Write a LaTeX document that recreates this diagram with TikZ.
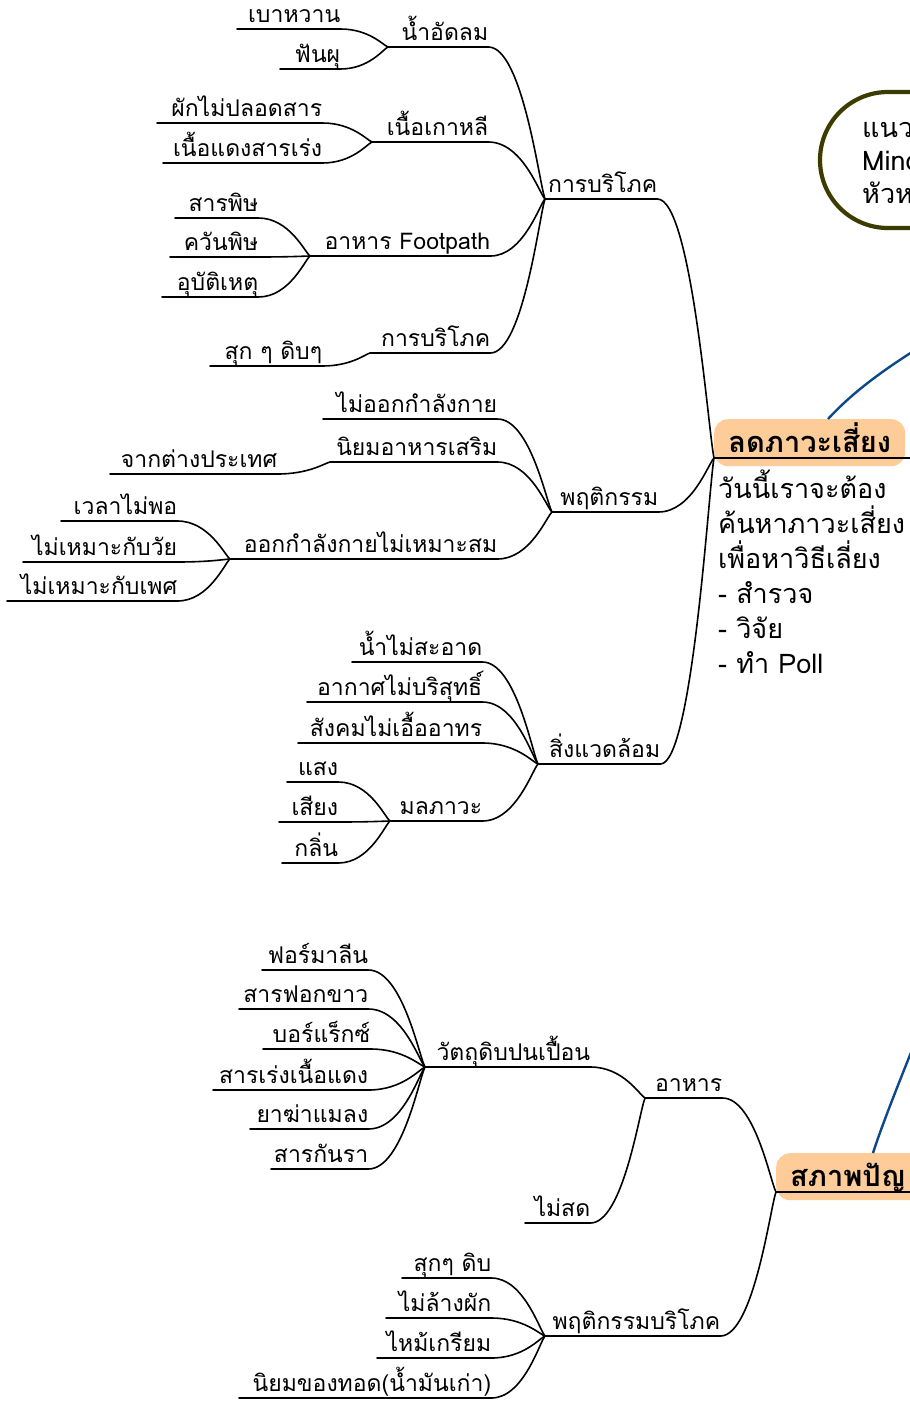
\documentclass[tikz,border=0pt]{standalone}
\usepackage{fontspec}
\setmainfont[Script=Thai]{Loma}
\usetikzlibrary{calc}
\definecolor{orbox}{RGB}{253,204,153}
\definecolor{bluel}{RGB}{12,72,140}
\definecolor{olv}{RGB}{60,60,0}
\tikzset{
 lab/.style={anchor=south west, inner sep=0pt, text height=17pt, text depth=6pt, align=right, font=\fontsize{23}{25}\selectfont},
 ln/.style={line width=1.6pt, line cap=round},
 br/.style={to path={let \p1=(\tikztostart), \p2=(\tikztotarget) in .. controls ({\x1+0.6*(\x2-\x1)},\y1) and ({\x2-0.1*(\x2-\x1)},{\y2+0.1*(\y1-\y2)}) .. (\tikztotarget)}},
 cbox/.style={fill=orbox, rounded corners=14pt, inner ysep=0pt, text height=20pt, text depth=1pt, minimum height=47pt, anchor=north west, font=\bfseries\fontsize{29}{31}\selectfont},
 bluelink/.style={bluel, line width=2.4pt},
 bigtext/.style={anchor=base west, align=left, inner sep=0pt},
}
\newcommand\lb[5]{\pgfmathsetmacro\tw{#3-#2}\node[lab, text width=\tw pt] (#1) at (#2,#4) {#5};\draw[ln] (#1.south west) -- (#1.south east);}
\newcommand\cn[2]{\draw[ln] (#1.south east) to[br] (#2.south west);}
\begin{document}
\begin{tikzpicture}[x=1pt,y=-1pt]
\useasboundingbox (0,0) rectangle (910,1406);
\clip (0,0) rectangle (910,1406);
\fill[white] (0,0) rectangle (910,1406);

% idea bubble
\draw[olv, line width=4.2pt] (930,92) -- (888,92) arc[start angle=90,end angle=270,radius=68pt] -- (930,228);
\node[bigtext, font=\fontsize{27}{33}\selectfont] (idea) at (862,203) {แนว\\Mind\\หัวห};

% centre 1
\node[cbox, minimum width=191pt, inner xsep=0pt] (c1) at (714,419) {ลดภาวะเสี่ยง};
\coordinate (j1) at (714,458);
\coordinate (e1) at (920,458);
\draw[ln] (j1) -- (e1);
\coordinate (b1) at (828,419);
\coordinate (b1e) at (945,332);
\draw[bluelink] (b1) .. controls (852,393) and (885,367) .. (b1e);
\node[bigtext, font=\fontsize{27}{35}\selectfont] (desc) at (718,673) {วันนี้เราจะต้อง\\ค้นหาภาวะเสี่ยง\\เพื่อหาวิธีเลี่ยง\\- สำรวจ\\- วิจัย\\- ทำ Poll};

% group 1
\lb{gb}{545}{657}{199}{การบริโภค}
\lb{nam}{388}{488}{47}{น้ำอัดลม}
\lb{bw}{237}{340}{29}{เบาหวาน}
\lb{fp}{280}{340}{69}{ฟันผุ}
\lb{nk}{372}{488}{142}{เนื้อเกาหลี}
\lb{pk}{157}{322}{123}{ผักไม่ปลอดสาร}
\lb{ns}{163}{322}{163}{เนื้อแดงสารเร่ง}
\lb{af}{310}{490}{256}{อาหาร Footpath}
\lb{sp}{175}{258}{218}{สารพิษ}
\lb{kp}{170}{258}{257}{ควันพิษ}
\lb{ub}{162}{258}{297}{อุบัติเหตุ}
\lb{gbb}{370}{490}{353}{การบริโภค}
\lb{sd}{210}{322}{366}{สุก ๆ ดิบๆ}
\draw[ln] (gb.south east) to[br] (j1);
\cn{nam}{gb}\cn{nk}{gb}\cn{af}{gb}\cn{gbb}{gb}
\cn{bw}{nam}\cn{fp}{nam}
\cn{pk}{nk}\cn{ns}{nk}
\cn{sp}{af}\cn{kp}{af}\cn{ub}{af}
\cn{sd}{gbb}

% group 2
\lb{pt}{552}{658}{512}{พฤติกรรม}
\lb{mo}{323}{497}{419}{ไม่ออกกำลังกาย}
\lb{ny}{330}{497}{462}{นิยมอาหารเสริม}
\lb{jk}{110}{277}{474}{จากต่างประเทศ}
\lb{ok}{230}{497}{559}{ออกกำลังกายไม่เหมาะสม}
\lb{wl}{61}{177}{521}{เวลาไม่พอ}
\lb{mw}{23}{177}{562}{ไม่เหมาะกับวัย}
\lb{mp}{7}{177}{601}{ไม่เหมาะกับเพศ}
\draw[ln] (pt.south east) to[br] (j1);
\cn{mo}{pt}\cn{ny}{pt}\cn{ok}{pt}
\cn{jk}{ny}
\cn{wl}{ok}\cn{mw}{ok}\cn{mp}{ok}

% group 3
\lb{sw}{538}{660}{764}{สิ่งแวดล้อม}
\lb{nm}{352}{482}{662}{น้ำไม่สะอาด}
\lb{ak}{307}{482}{702}{อากาศไม่บริสุทธิ์}
\lb{sk}{298}{482}{743}{สังคมไม่เอื้ออาทร}
\lb{ml}{390}{482}{821}{มลภาวะ}
\lb{sa}{287}{338}{782}{แสง}
\lb{si}{279}{338}{822}{เสียง}
\lb{kl}{282}{338}{863}{กลิ่น}
\draw[ln] (sw.south east) to[br] (j1);
\cn{nm}{sw}\cn{ak}{sw}\cn{sk}{sw}\cn{ml}{sw}
\cn{sa}{ml}\cn{si}{ml}\cn{kl}{ml}

% centre 2
\node[cbox, minimum width=200pt, inner xsep=14pt, text width=172pt, align=left] (c2) at (776,1153) {สภาพปัญ};
\coordinate (j2) at (776,1192);
\coordinate (e2) at (920,1192);
\draw[ln] (j2) -- (e2);
\coordinate (b2) at (873,1153);
\coordinate (b2e) at (924,1020);
\draw[bluelink] (b2) .. controls (883,1122) and (900,1080) .. (b2e);

% group 4
\lb{ah}{645}{722}{1098}{อาหาร}
\lb{wt}{425}{590}{1067}{วัตถุดิบปนเปื้อน}
\lb{ms}{525}{590}{1223}{ไม่สด}
\lb{fm}{262}{368}{970}{ฟอร์มาลีน}
\lb{sf}{239}{368}{1009}{สารฟอกขาว}
\lb{bx}{263}{370}{1049}{บอร์แร็กซ์}
\lb{sr}{213}{368}{1090}{สารเร่งเนื้อแดง}
\lb{ym}{250}{368}{1129}{ยาฆ่าแมลง}
\lb{sg}{271}{368}{1169}{สารกันรา}
\lb{pb}{545}{720}{1336}{พฤติกรรมบริโภค}
\lb{sdb}{402}{491}{1278}{สุกๆ ดิบ}
\lb{lp}{386}{491}{1318}{ไม่ล้างผัก}
\lb{mk}{377}{491}{1358}{ไหม้เกรียม}
\lb{nt}{239}{491}{1398}{นิยมของทอด(น้ำมันเก่า)}
\draw[ln] (ah.south east) to[br] (j2);
\draw[ln] (pb.south east) to[br] (j2);
\cn{wt}{ah}\cn{ms}{ah}
\cn{fm}{wt}\cn{sf}{wt}\cn{bx}{wt}\cn{sr}{wt}\cn{ym}{wt}\cn{sg}{wt}
\cn{sdb}{pb}\cn{lp}{pb}\cn{mk}{pb}\cn{nt}{pb}
\end{tikzpicture}
\end{document}
